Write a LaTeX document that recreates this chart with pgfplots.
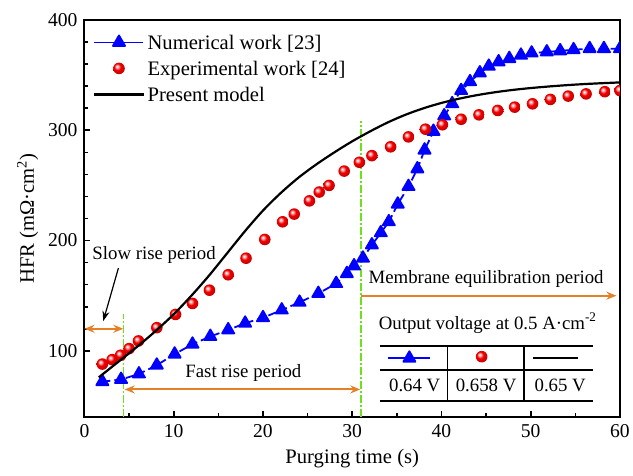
\documentclass[border=0pt]{standalone}
\usepackage{fontspec}
\setmainfont{Liberation Serif}
\usepackage{pgfplots}
\usepackage{pgfplotstable}
\pgfplotsset{compat=1.18}
\usetikzlibrary{arrows.meta}

\definecolor{periodgreen}{RGB}{110,225,30}
\definecolor{periodorange}{RGB}{228,128,40}

% glossy red sphere used for the experimental points
\pgfdeclareradialshading{redsphere}{\pgfpoint{-9bp}{9bp}}{%
  color(0bp)=(white);
  color(5bp)=(red!25!white);
  color(14bp)=(red!95!black);
  color(26bp)=(red!80!black);
  color(36bp)=(red!55!black);
  color(60bp)=(red!40!black)}
\pgfdeclareplotmark{sphere}{%
  \pgfpathcircle{\pgfpointorigin}{\pgfplotmarksize}%
  \pgfshadepath{redsphere}{0}%
  \pgfusepath{discard}}

% Numerical work [23]
\pgfplotstableread{
t hfr
2.0 72
4.1 74
6.1 79
8.1 87
10.1 97
12.1 106
14.1 113
16.1 119
18.0 125
20.0 130
22.1 137
24.1 144
26.2 152
28.2 161
29.4 170
30.2 177
31.2 184
32.2 196
33.2 207
34.1 217
35.1 233
36.3 249
37.3 265
38.1 282
39.1 299
40.3 313
41.2 324
42.2 336
43.2 344
44.3 352
45.3 358
46.4 362
47.6 365
48.9 368
50.1 370
51.8 371
53.3 372
54.8 373
56.6 374
58.2 374
60.0 374
}\numerical

% Experimental work [24]
\pgfplotstableread{
t hfr
2.0 88
3.1 92
4.05 96
5.0 102
6.05 109
8.1 121
10.2 133
12.1 143
14.0 155
16.1 169
18.1 184
20.2 201
22.2 217
23.5 224
25.2 236
26.3 244
27.4 250
29.1 263
30.8 271
32.2 277
34.3 285
36.3 294
38.2 301
40.1 305
42.2 310
44.2 314
46.3 318
48.2 321
50.2 324
52.2 328
54.2 331
56.2 333
58.3 335
60.0 336
}\experimental

% Present model
\pgfplotstableread{
t hfr
1.6 76
4 91.4
6 104.4
8 118.2
10 133.2
12 150.2
14 168.7
16 188.7
18 208.7
20 227.2
22 243.2
24 257.2
26 269.2
28 280
30 290
32 299
34 307.2
36 314.2
38 320
40 324.8
42 328.7
44 331.9
46 334.5
48 336.6
50 338.3
52 339.7
54 340.9
56 341.9
58 342.7
60 343.4
}\model

\newcommand{\lblfont}{\fontsize{10.3}{12}\selectfont}
\newcommand{\tickfont}{\fontsize{9.8}{12}\selectfont}
\newcommand{\annfont}{\fontsize{9.4}{11}\selectfont}

\begin{document}
\begin{tikzpicture}
\begin{axis}[
  at={(0,0)}, anchor=south west,
  scale only axis,
  width=267.75pt, height=198.5pt,
  xmin=0, xmax=60, ymin=40, ymax=400,
  xtick={0,10,...,60}, ytick={100,200,300,400},
  minor x tick num=1, minor y tick num=4,
  tick align=inside, xtick pos=bottom, ytick pos=left,
  major tick length=3pt, minor tick length=2pt,
  tick style={black, line width=0.8pt},
  axis line style={line width=1pt},
  every axis plot/.append style={line join=round},
  /pgf/number format/assume math mode=true,
  ticklabel style={font=\tickfont},
  label style={font=\lblfont},
  xlabel={Purging time (s)},
  ylabel={HFR (mΩ·cm\textsuperscript{2})},
  xlabel style={yshift=1pt},
  ylabel style={yshift=-2pt},
  clip marker paths=true,
  legend cell align=left,
  legend style={
    at={(axis description cs:0,1)}, anchor=north west,
    xshift=4.25pt, yshift=-4.5pt,
    draw=none, fill=none, inner sep=0pt,
    row sep=0pt, column sep=1.5pt,
    font=\lblfont,
    nodes={inner xsep=0pt, inner ysep=0.5pt, text height=9.5pt, text depth=2.5pt},
  },
  legend image code/.code={
    \draw[mark repeat=2, mark phase=2, #1, solid]
      plot coordinates {(0pt,0pt) (12.25pt,0pt) (24.5pt,0pt)};
  },
]

% period markers
\draw[periodgreen, line width=0.8pt, dash pattern=on 4pt off 1pt on 1pt off 1pt]
  (4.35,40) -- (4.35,133);
\draw[periodgreen, line width=0.8pt, dash pattern=on 4pt off 1pt on 1pt off 1pt]
  (31,40) -- (31,308);
\draw[periodorange, line width=1pt, {Stealth[length=5pt,width=4pt]}-{Stealth[length=5pt,width=4pt]}]
  (0,120) -- (4.35,120);
\draw[periodorange, line width=1pt, {Stealth[length=5pt,width=4pt]}-{Stealth[length=5pt,width=4pt]}]
  (4.5,65) -- (30.9,65);
\draw[periodorange, line width=1pt, -{Stealth[length=5pt,width=4pt]}]
  (31,150) -- (59.6,150);
\node[font=\annfont] at (7.8,187) {Slow rise period};
\draw[black, line width=0.6pt, -{Stealth[length=5pt,width=3.5pt]}] (3.8,175) -- (2.1,127);
\node[font=\annfont] at (17.8,80) {Fast rise period};
\node[font=\annfont] at (45,165) {Membrane equilibration period};

% data
\addplot[blue, line width=0.9pt, dash pattern=on 4pt off 2pt,
  mark=triangle*, mark size=3.5pt, mark options={solid, fill=blue, draw=blue}]
  table[x=t, y=hfr] {\numerical};
\addlegendentry{Numerical work [23]}
\addplot[only marks, mark=sphere, mark size=2.9pt]
  table[x=t, y=hfr] {\experimental};
\addlegendentry{Experimental work [24]}
\addplot[black, line width=1.1pt, smooth, tension=0.5]
  table[x=t, y=hfr] {\model};
\addlegendentry{Present model}

% output voltage table
\node[font=\annfont] at (45.2,125) {Output voltage at 0.5 A·cm\textsuperscript{-2}};
\draw[black, line width=0.75pt] (33.1,104.4) -- (57,104.4);
\draw[black, line width=0.75pt] (33.1,82.4) -- (57,82.4);
\draw[black, line width=0.75pt] (33.1,54.5) -- (57,54.5);
\draw[black, line width=0.75pt] (40.7,104.4) -- (40.7,54.5);
\draw[black, line width=0.75pt] (49.25,104.4) -- (49.25,54.5);
\addplot[blue, line width=0.9pt, mark=triangle*, mark size=3.5pt,
  mark indices={2}, mark options={fill=blue, draw=blue}, forget plot]
  coordinates {(34,93.3) (36.4,93.3) (38.7,93.3)};
\addplot[only marks, mark=sphere, mark size=2.9pt, forget plot]
  coordinates {(44.5,94.7)};
\addplot[black, line width=1.1pt, forget plot]
  coordinates {(50.3,93.3) (55.3,93.3)};
\node[font=\annfont] at (37,68.5) {0.64 V};
\node[font=\annfont] at (45,68.5) {0.658 V};
\node[font=\annfont] at (53.3,68.5) {0.65 V};
\end{axis}
\pgfresetboundingbox
\path[use as bounding box] (-42.25pt,-29.5pt) rectangle (274.25pt,208.5pt);
\end{tikzpicture}
\end{document}
